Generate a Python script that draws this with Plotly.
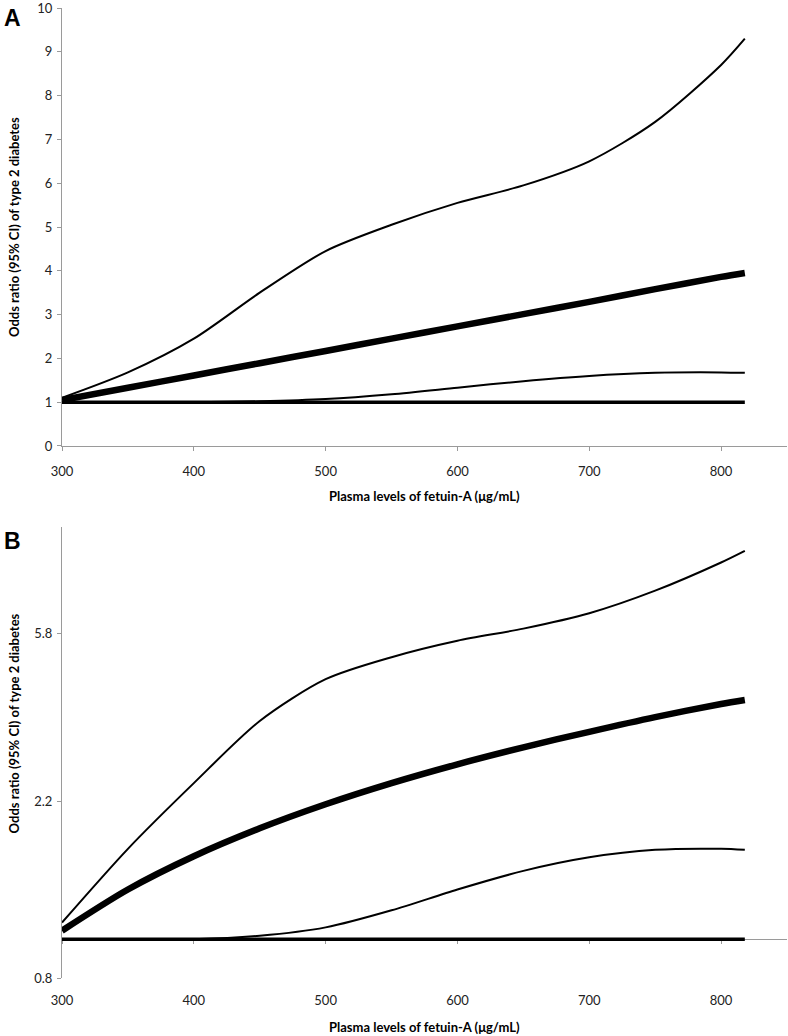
import numpy as np
import plotly.graph_objs as go

## fetuin-A levels (ug/mL)
fetuin = [300, 350, 400, 450, 500, 550, 600, 650, 700, 750, 800, 818]

## odds ratio + 95% CI (same curves in A and B)
or_mean = [1.05, 1.33, 1.61, 1.89, 2.17, 2.45, 2.73, 3.01, 3.29, 3.58, 3.86, 3.95]
or_upper = [1.10, 1.68, 2.45, 3.50, 4.45, 5.05, 5.55, 5.95, 6.50, 7.40, 8.70, 9.30]
or_lower = [1.00, 1.00, 1.00, 1.02, 1.07, 1.18, 1.33, 1.48, 1.60, 1.67, 1.68, 1.67]
or_ref = [1.0] * len(fetuin)

xticks = [300, 400, 500, 600, 700, 800]
yticks_a = list(range(0, 11))
yticks_b = [0.8, 2.2, 5.8]

FONT = 'Lato, Open Sans, sans-serif'
GREY = '#9a9a9a'
xtitle = 'Plasma levels of fetuin-A (μg/mL)'
ytitle = 'Odds ratio (95% CI) of type 2 diabetes'

# panel geometry (paper fractions), plot area is 970px tall
dom_a = [0.5485, 1.0]
dom_b = [0.0, 0.465]
yr_b = [np.log10(0.8), np.log10(10.67)]
pos_one = dom_b[0] + (0 - yr_b[0]) / (yr_b[1] - yr_b[0]) * (dom_b[1] - dom_b[0])

fig = go.Figure()

def add_panel(xa, ya, ref_xa):
    fig.add_trace(go.Scatter(x=fetuin, y=or_ref, mode='lines', xaxis=ref_xa, yaxis=ya,
                             line=dict(color='black', width=3.5)))
    fig.add_trace(go.Scatter(x=fetuin, y=or_lower, mode='lines', xaxis=xa, yaxis=ya,
                             line=dict(color='black', width=2, shape='spline', smoothing=0.8)))
    fig.add_trace(go.Scatter(x=fetuin, y=or_upper, mode='lines', xaxis=xa, yaxis=ya,
                             line=dict(color='black', width=2, shape='spline', smoothing=0.8)))
    fig.add_trace(go.Scatter(x=fetuin, y=or_mean, mode='lines', xaxis=xa, yaxis=ya,
                             line=dict(color='black', width=6.5, shape='spline', smoothing=0.8)))

add_panel('x', 'y', 'x')
add_panel('x2', 'y2', 'x3')

axis_common = dict(showgrid=False, zeroline=False, linecolor=GREY, tickcolor=GREY,
                   ticklen=4, tickwidth=1, layer='below traces', automargin=False,
                   ticklabeloverflow='allow',
                   tickfont=dict(family=FONT, size=13, color='#222222'))

fig.update_layout(
    width=788, height=1036,
    margin=dict(l=62, r=1, t=8, b=58),
    plot_bgcolor='white', paper_bgcolor='white',
    showlegend=False,
    font=dict(family=FONT),
    xaxis=dict(domain=[0, 1], anchor='y', range=[300, 850], tickvals=xticks,
               showline=True, ticks='outside', ticklabelstandoff=9, **axis_common),
    yaxis=dict(domain=dom_a, anchor='x', range=[0, 10.001], tickvals=yticks_a,
               showline=True, ticks='outside', ticklabelstandoff=2, **axis_common),
    xaxis2=dict(domain=[0, 1], anchor='y2', range=[300, 850], tickvals=xticks,
                showline=False, ticks='', ticklabelstandoff=13, **axis_common),
    xaxis3=dict(overlaying='x2', anchor='free', position=pos_one, range=[300, 850],
                tickvals=xticks, showticklabels=False, showline=True, ticks='outside',
                **axis_common),
    yaxis2=dict(domain=dom_b, anchor='x2', type='log', range=yr_b, tickvals=yticks_b,
                ticktext=['0.8', '2.2', '5.8'],
                showline=True, ticks='outside', ticklabelstandoff=2, **axis_common),
)

# axis titles and panel letters
for yc in [(dom_a[0] + dom_a[1]) / 2, (dom_b[0] + dom_b[1]) / 2 + 0.03]:
    fig.add_annotation(text='<b>' + ytitle + '</b>', xref='paper', yref='paper',
                       x=-48 / 725, y=yc, textangle=-90, showarrow=False,
                       xanchor='center', yanchor='middle',
                       font=dict(family=FONT, size=13, color='black'))
for yt in [dom_a[0] - 50 / 970, dom_b[0] - 49 / 970]:
    fig.add_annotation(text='<b>' + xtitle + '</b>', xref='paper', yref='paper',
                       x=0.5, y=yt, showarrow=False, xanchor='center', yanchor='middle',
                       font=dict(family=FONT, size=13, color='black'))
for letter, yl in [('A', 1.0 + 5 / 970), ('B', dom_b[1] + 1 / 970)]:
    fig.add_annotation(text='<b>' + letter + '</b>', xref='paper', yref='paper',
                       x=-60 / 725, y=yl, showarrow=False, xanchor='left', yanchor='top',
                       font=dict(family='Liberation Sans, Arial', size=23, color='black'))

# the page body has a default 8px margin; drop it so the figure sits at 0,0
fig.write_html("out.html", config={'displayModeBar': False},
               post_script="document.body.style.margin='0px';")
